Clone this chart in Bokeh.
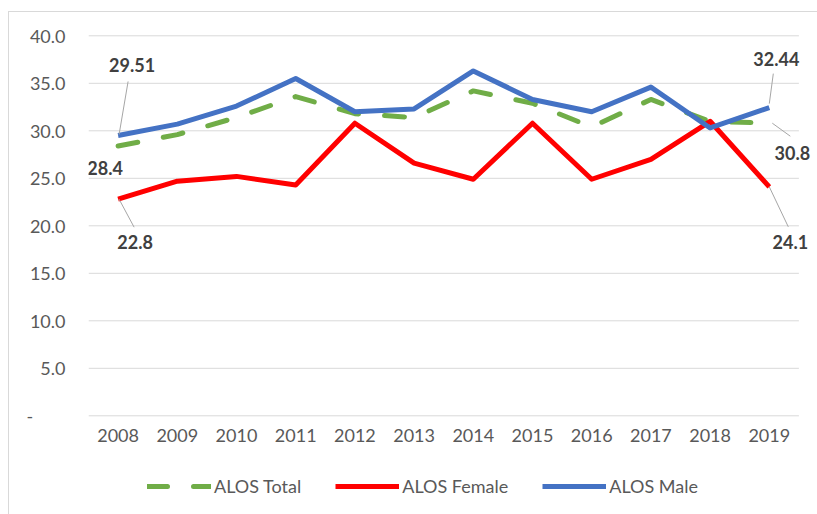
from bokeh.plotting import figure
from bokeh.models import FixedTicker, Legend, LegendItem, Range1d, Column
from bokeh.core.properties import value
from bokeh.embed import file_html
from bokeh.resources import INLINE

years = ["2008", "2009", "2010", "2011", "2012", "2013",
         "2014", "2015", "2016", "2017", "2018", "2019"]
alos_total = [28.4, 29.6, 31.4, 33.6, 31.8, 31.4, 34.2, 32.9, 30.4, 33.3, 31.0, 30.8]
alos_female = [22.8, 24.7, 25.2, 24.3, 30.8, 26.6, 24.9, 30.8, 24.9, 27.0, 31.0, 24.1]
alos_male = [29.51, 30.7, 32.6, 35.5, 32.0, 32.3, 36.3, 33.3, 32.0, 34.6, 30.3, 32.44]
y_ticks = [0, 5, 10, 15, 20, 25, 30, 35, 40]
y_tick_labels = ["-", "5.0", "10.0", "15.0", "20.0", "25.0", "30.0", "35.0", "40.0"]
series_names = ["ALOS Total", "ALOS Female", "ALOS Male"]

FONT = "Lato"
FS = "18px"
GREEN = "#70AD47"
RED = "#FF0000"
BLUE = "#4472C4"
GRID = "#D9D9D9"
TICK_TXT = "#595959"

# ---- geometry (pixels) ----
W = 808
H1, H2 = 450, 52
ML, MR, MT, MB = 79, 3, 19, 40
FW, FH = W - ML - MR, H1 - MT - MB
XPX = 59.2                      # px per category
YPX = 9.5                       # px per y unit
X0 = -0.5
X1 = X0 + FW / XPX
Y1 = 40 + 4.3 / YPX             # 40 gridline sits 4.3px below frame top
Y0 = Y1 - FH / YPX

xs = list(range(len(years)))

p = figure(width=W, height=H1, output_backend="svg", toolbar_location=None,
           x_range=Range1d(X0, X1), y_range=Range1d(Y0, Y1),
           min_border_left=ML, min_border_right=MR, min_border_top=MT,
           min_border_bottom=MB, background_fill_color="white",
           border_fill_color="white")
p.outline_line_color = None
p.xgrid.grid_line_color = None
p.ygrid.grid_line_color = None

# axes
p.xaxis.ticker = FixedTicker(ticks=xs)
p.xaxis.major_label_overrides = {i: y for i, y in enumerate(years)}
p.yaxis.ticker = FixedTicker(ticks=y_ticks)
nb = "\u00a0" * 7
p.yaxis.major_label_overrides = {t: (l + nb if l == "-" else l)
                                 for t, l in zip(y_ticks, y_tick_labels)}
for ax in (p.xaxis[0], p.yaxis[0]):
    ax.axis_line_color = None
    ax.major_tick_line_color = None
    ax.minor_tick_line_color = None
    ax.major_tick_out = 0
    ax.major_tick_in = 0
    ax.major_label_text_font = FONT
    ax.major_label_text_font_size = FS
    ax.major_label_text_color = TICK_TXT
p.yaxis.major_label_standoff = 23
p.xaxis.major_label_standoff = 6

# horizontal gridlines across the category area
n = len(years)
p.segment([-0.5] * len(y_ticks), y_ticks, [n - 0.5] * len(y_ticks), y_ticks,
          line_color=GRID, line_width=1)

r_total = p.line(xs, alos_total, line_color=GREEN, line_width=5,
                 line_dash="20 26", line_cap="round", line_join="round")
r_female = p.line(xs, alos_female, line_color=RED, line_width=5,
                  line_join="round")
r_male = p.line(xs, alos_male, line_color=BLUE, line_width=5,
                line_join="round")

# data labels: (series, index, label dx/dy in px, leader start/end in px or None)
labels = [
    (alos_male, 0, (14, -70), ((1, -1), (10, -54))),
    (alos_total, 0, (-13, 22), None),
    (alos_female, 0, (17, 43), ((1, 0), (16, 28))),
    (alos_male, -1, (7, -49), ((0, -4), (4, -34))),
    (alos_total, -1, (23, 30), ((3, 0), (21, 13))),
    (alos_female, -1, (21, 55), ((0, 0), (19, 40))),
]
lx, ly, lt, x0s, y0s, x1s, y1s = [], [], [], [], [], [], []
for series, i, (dx, dy), leader in labels:
    xi = xs[i]
    yi = series[i]
    lx.append(xi + dx / XPX)
    ly.append(yi - dy / YPX)
    lt.append(f"{yi:g}")
    if leader:
        (a, b), (c, d) = leader
        x0s.append(xi + a / XPX); y0s.append(yi - b / YPX)
        x1s.append(xi + c / XPX); y1s.append(yi - d / YPX)

p.segment(x0s, y0s, x1s, y1s, line_color="#A6A6A6", line_width=1)
p.text(lx, ly, text=lt, text_font=value(FONT), text_font_style="bold",
       text_font_size=FS, text_color="#404040", text_align="center",
       text_baseline="middle")

# ---- legend strip (its own small canvas so nothing is clipped) ----
q = figure(width=W, height=H2, output_backend="svg", toolbar_location=None,
           x_range=Range1d(-1, 0), y_range=Range1d(-1, 0),
           x_axis_type=None, y_axis_type=None,
           min_border_left=0, min_border_right=0, min_border_top=0,
           min_border_bottom=0, background_fill_color="white",
           border_fill_color="white")
q.outline_line_color = None
q.xgrid.grid_line_color = None
q.ygrid.grid_line_color = None
# stand-in renderers (one off-screen data point each) used only for legend swatches
lg_total = q.line(xs[:1], alos_total[:1], line_color=GREEN, line_width=5,
                  line_dash="20 26", line_cap="round")
lg_female = q.line(xs[:1], alos_female[:1], line_color=RED, line_width=5)
lg_male = q.line(xs[:1], alos_male[:1], line_color=BLUE, line_width=5)
legend = Legend(items=[LegendItem(label=series_names[0], renderers=[lg_total]),
                       LegendItem(label=series_names[1], renderers=[lg_female]),
                       LegendItem(label=series_names[2], renderers=[lg_male])],
                orientation="horizontal", location=(59, 17),
                glyph_width=64, glyph_height=20, label_standoff=3, spacing=34,
                label_text_font=FONT, label_text_font_size=FS,
                label_text_color=TICK_TXT, border_line_color=None,
                background_fill_alpha=0, padding=0, margin=0)
q.add_layout(legend, "center")

layout = Column(children=[p, q], spacing=0,
                styles={"margin-left": "8px", "margin-top": "11px",
                        "border-left": "1px solid #D9D9D9",
                        "border-top": "1px solid #D9D9D9"})

open("out.html", "w").write(file_html(layout, INLINE))
